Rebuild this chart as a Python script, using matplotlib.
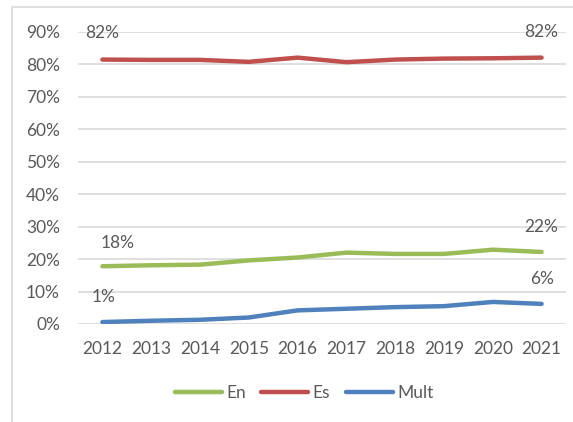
import matplotlib.pyplot as plt
from matplotlib.patches import Rectangle
from matplotlib.ticker import FuncFormatter

years = [2012, 2013, 2014, 2015, 2016, 2017, 2018, 2019, 2020, 2021]
en = [17.8, 18.1, 18.3, 19.6, 20.5, 22.0, 21.6, 21.6, 22.9, 22.2]
es = [81.5, 81.4, 81.4, 80.8, 82.1, 80.7, 81.5, 81.8, 81.9, 82.1]
mult = [0.6, 1.0, 1.3, 2.0, 4.2, 4.7, 5.2, 5.5, 6.8, 6.2]

# (series, index, text, x offset px, y offset px)
labels = [
    (es, 0, "82%", 0, 27),
    (es, 9, "82%", 0, 26),
    (en, 0, "18%", 15, 23),
    (en, 9, "22%", 0, 25),
    (mult, 0, "1%", 1, 25),
    (mult, 9, "6%", 0, 25),
]

green = "#9BBB59"
red = "#C0504D"
blue = "#4F81BD"
grid_col = "#D9D9D9"
text_col = "#595959"

plt.rcParams['font.family'] = ['Lato', 'DejaVu Sans']

W, H = 573, 422
fig = plt.figure(figsize=(W / 100, H / 100), dpi=100)
ax = fig.add_axes([78 / W, (H - 324) / H, (566 - 78) / W, (324 - 32) / H])

# chart border
fig.patches.append(Rectangle((12 / W, -0.1), 1.2, 1.1 - 7 / H, transform=fig.transFigure,
                             fill=False, edgecolor=grid_col, linewidth=1.2))

ax.plot(years, en, color=green, lw=3.2, solid_capstyle='round', solid_joinstyle='round', label="En")
ax.plot(years, es, color=red, lw=3.2, solid_capstyle='round', solid_joinstyle='round', label="Es")
ax.plot(years, mult, color=blue, lw=3.2, solid_capstyle='round', solid_joinstyle='round', label="Mult")

for series, i, txt, dx, dy in labels:
    ax.annotate(txt, (years[i], series[i]), xytext=(dx * 0.72, dy * 0.72), textcoords='offset points',
                ha='center', va='center', fontsize=12.5, color=text_col)

ax.set_xlim(2011.5, 2021.5)
ax.set_ylim(0, 90)
ax.set_yticks(range(0, 91, 10))
ax.yaxis.set_major_formatter(FuncFormatter(lambda v, p: f"{int(v)}%"))
ax.set_xticks(years)
ax.grid(axis='y', color=grid_col, lw=1.2)
ax.set_axisbelow(True)
for s in ax.spines.values():
    s.set_visible(False)
ax.tick_params(length=0, labelsize=12.5, labelcolor=text_col)
ax.tick_params(axis='y', pad=13)
ax.tick_params(axis='x', pad=12)

fig.legend(loc='center', bbox_to_anchor=(304 / W, 1 - 393 / H), ncol=3, frameon=False,
           fontsize=12.5, handlelength=2.7, handletextpad=0.25, columnspacing=0.9,
           labelcolor=text_col)

fig.savefig("out.png", dpi=100)
